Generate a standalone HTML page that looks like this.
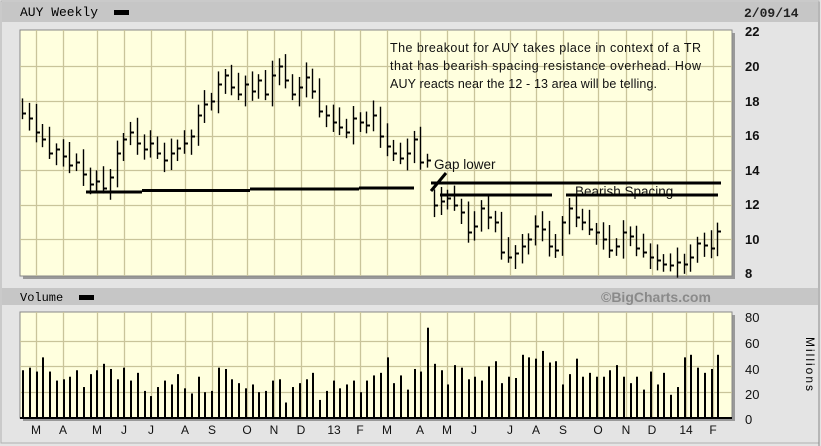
<!DOCTYPE html>
<html><head><meta charset="utf-8"><style>
body{margin:0;width:821px;height:446px;overflow:hidden;background:#e2e2e2;}
svg{display:block}
</style></head><body>
<svg id="s" width="821" height="446" xmlns="http://www.w3.org/2000/svg" font-family="Liberation Sans, sans-serif">
<rect x="0" y="0" width="821" height="446" fill="#e4e4e4"/>
<rect x="1" y="1" width="818" height="442" fill="none" stroke="#b0b0b0"/>
<rect x="2" y="2" width="816" height="20" fill="#c6c6c6"/>
<text x="20" y="16" font-family="Liberation Mono, monospace" font-size="13">AUY Weekly</text>
<rect x="114" y="10" width="15" height="5" fill="#000"/>
<text x="744" y="17" font-family="Liberation Mono, monospace" font-size="13" font-weight="bold" fill="#222">2/09/14</text>
<line x1="819" y1="2" x2="819" y2="446" stroke="#888"/>
<rect x="23" y="33" width="712" height="246" fill="#999"/>
<rect x="20" y="30" width="712" height="246" fill="#ffffde" stroke="#888"/>
<g id="pgrid" stroke="#c9c49a" stroke-width="1.3"></g>
<g id="bars" stroke="#000" stroke-width="1.4" fill="none"></g>
<g font-size="13" fill="#111" font-weight="bold">
<text x="745" y="36">22</text><text x="745" y="71">20</text><text x="745" y="106">18</text><text x="745" y="140">16</text><text x="745" y="175">14</text><text x="745" y="209">12</text><text x="745" y="244">10</text><text x="745" y="278">8</text>
</g>
<g font-size="12.5" fill="#111">
<text x="390" y="52" textLength="311">The breakout for AUY takes place in context of a TR</text>
<text x="390" y="70" textLength="311">that has bearish spacing resistance overhead.  How</text>
<text x="390" y="88" textLength="267">AUY reacts near the 12 - 13 area will be telling.</text>
<text x="434" y="169" font-size="13.5">Gap lower</text>
<text x="575" y="196" font-size="13.5">Bearish Spacing</text>
</g>
<g stroke="#000" stroke-width="3">
<line x1="86" y1="192" x2="142" y2="192"/><line x1="142" y1="190.5" x2="250" y2="190.5"/><line x1="250" y1="189" x2="359" y2="189"/><line x1="359" y1="188" x2="414" y2="188"/>
<line x1="431" y1="191" x2="446" y2="173"/>
<line x1="431" y1="183" x2="721" y2="183"/>
<line x1="440" y1="195" x2="552" y2="195"/>
<line x1="566" y1="195" x2="718" y2="195"/>
</g>
<rect x="2" y="288" width="816" height="17" fill="#c6c6c6"/>
<text x="20" y="301" font-family="Liberation Mono, monospace" font-size="12">Volume</text>
<rect x="79" y="295" width="15" height="5" fill="#000"/>
<text x="601" y="302" font-size="14" font-weight="bold" fill="#8a8a8a">©BigCharts.com</text>
<rect x="23" y="315" width="712" height="106" fill="#999"/>
<rect x="20" y="312" width="712" height="106" fill="#ffffde" stroke="#888"/>
<g id="vgrid" stroke="#c9c49a" stroke-width="1.3"></g>
<g id="vbars" fill="#000"></g>
<line x1="20" y1="418" x2="732" y2="418" stroke="#000" stroke-width="2"/>
<g font-size="13" fill="#111">
<text x="745" y="322">80</text><text x="745" y="348">60</text><text x="745" y="374">40</text><text x="745" y="399">20</text><text x="745" y="424">0</text>
</g>
<text transform="translate(806,365) rotate(90)" font-size="12" text-anchor="middle" letter-spacing="2">Millions</text>
<g id="mon" font-size="12" fill="#111" text-anchor="middle"></g>
</svg>
<script>
var NS="http://www.w3.org/2000/svg";
function el(p,t,a,txt){var e=document.createElementNS(NS,t);for(var k in a)e.setAttribute(k,a[k]);if(txt)e.textContent=txt;document.getElementById(p).appendChild(e);}
var gx=[36,63,97,124,151,185,212,247,274,301,334,360,387,420,447,474,510,536,563,598,626,652,686,713];
var ml=["M","A","M","J","J","A","S","O","N","D","13","F","M","A","M","J","J","A","S","O","N","D","14","F"];
function py(p){return 274-(p-8)*17.3;}
gx.forEach(function(x,i){el("pgrid","line",{x1:x+.5,y1:30,x2:x+.5,y2:276});el("vgrid","line",{x1:x+.5,y1:312,x2:x+.5,y2:418});el("mon","text",{x:x,y:434},ml[i]);});
for(var p=10;p<=20;p+=2){var y=Math.round(py(p))+.5;el("pgrid","line",{x1:20,y1:y,x2:732,y2:y});}
[20,40,60].forEach(function(v){var y=Math.round(418-v*1.29)+.5;el("vgrid","line",{x1:20,y1:y,x2:732,y2:y});});
var c=[17.3,17.0,16.2,15.8,15.0,15.2,14.8,14.3,14.5,13.8,13.2,13.4,13.0,13.6,15.0,15.8,16.2,15.6,15.2,15.6,15.0,14.6,15.0,15.3,15.6,16.0,17.2,17.8,18.0,19.0,19.5,18.8,18.4,19.0,18.6,19.2,18.4,19.5,20.0,19.2,18.4,18.8,19.4,18.6,17.4,17.2,16.8,16.5,16.2,17.0,16.8,16.6,17.2,16.0,15.4,15.0,14.7,15.0,15.8,14.5,14.6,12.0,12.2,12.4,12.0,11.6,10.4,10.8,11.8,11.3,11.0,9.3,9.0,9.2,9.6,10.0,10.8,10.6,9.6,9.4,11.0,11.8,11.3,11.0,10.6,10.4,10.0,9.4,9.6,10.4,10.2,9.5,9.3,9.0,8.8,8.6,8.5,8.7,8.6,9.0,9.8,9.7,9.5,10.5];
var v=[37,39,36,47,36,29,30,32,37,24,34,37,42,38,30,39,29,35,21,17,24,29,26,34,23,19,32,20,21,39,38,30,27,23,26,20,21,29,30,12,24,27,30,35,14,21,29,23,26,29,20,29,33,35,47,27,33,22,38,36,70,42,37,26,41,39,30,32,29,40,44,27,32,31,49,47,46,52,43,44,26,34,46,32,35,32,32,37,41,32,27,32,22,36,26,35,18,24,47,49,39,35,38,49];
for(var i=0;i<c.length;i++){var x=Math.round(22+i*6.75);var o=i?c[i-1]:17.8;if(i==61)o=12.3;
var hi=Math.max(o,c[i])+0.35+((i*7)%5)*0.12,lo=Math.min(o,c[i])-0.35-((i*3)%4)*0.12;
el("bars","line",{x1:x+.5,y1:py(hi),x2:x+.5,y2:py(lo)});
el("bars","line",{x1:x,y1:Math.round(py(c[i]))+.5,x2:x+4,y2:Math.round(py(c[i]))+.5,"stroke-width":2});}
for(var i=0;i<v.length;i++){var x=Math.round(22+i*6.75);var h=v[i]*1.29;el("vbars","rect",{x:x,y:418-h,width:2,height:h});}
</script>
</body></html>
